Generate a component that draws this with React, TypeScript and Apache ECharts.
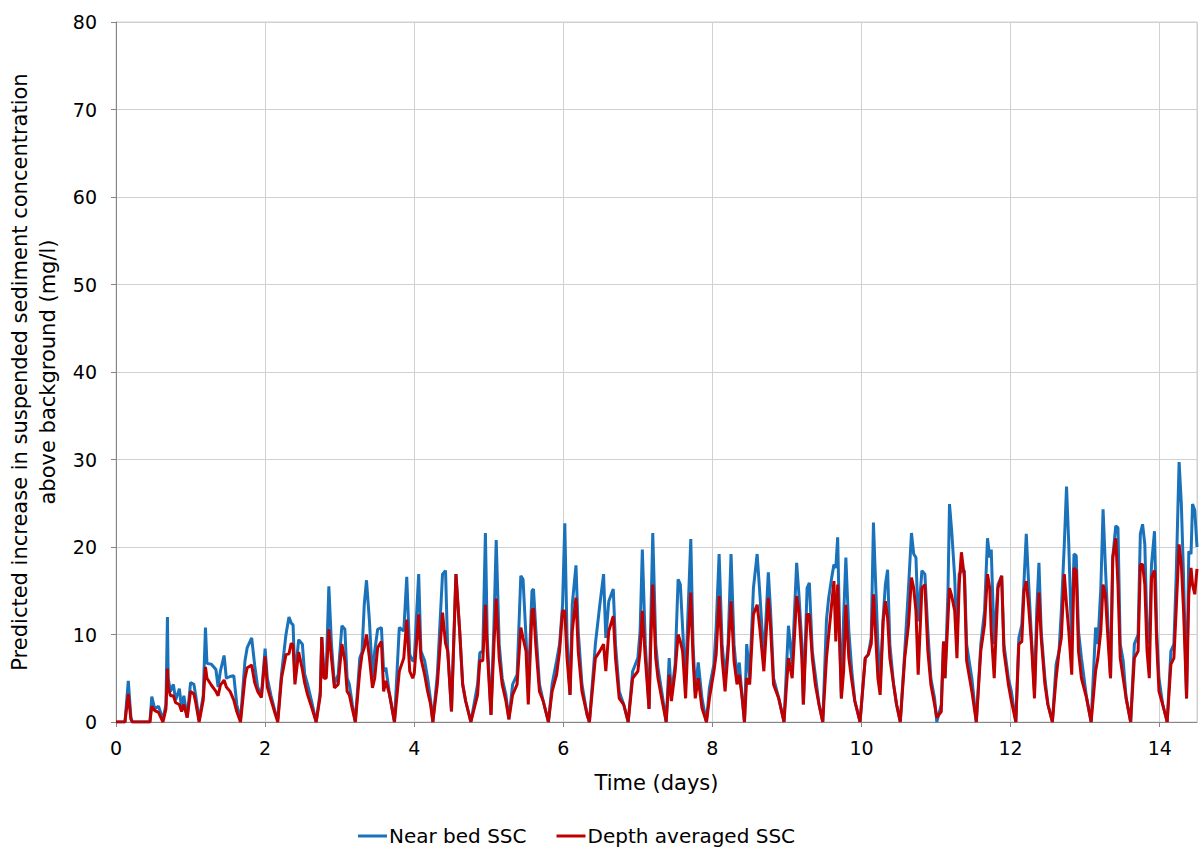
import React, { useEffect, useRef } from "react";
import * as echarts from "echarts";

// Time (days) of each read vertex
const times: number[] = [
  0, 0.12, 0.165, 0.2, 0.22, 0.455, 0.48, 0.52, 0.57, 0.63, 0.67, 0.69, 0.7, 0.73, 0.77, 0.8, 0.85, 0.88, 0.91, 0.955,
  1.0, 1.045, 1.07, 1.115, 1.17, 1.2, 1.22, 1.28, 1.34, 1.37, 1.4, 1.45, 1.48, 1.53, 1.58, 1.62, 1.67, 1.73, 1.76, 1.82,
  1.86, 1.9, 1.95, 2.0, 2.03, 2.08, 2.14, 2.17, 2.22, 2.28, 2.32, 2.35, 2.375, 2.4, 2.45, 2.5, 2.53, 2.57, 2.62, 2.685,
  2.74, 2.76, 2.79, 2.82, 2.855, 2.89, 2.93, 2.98, 3.03, 3.07, 3.1, 3.13, 3.17, 3.21, 3.27, 3.3, 3.33, 3.36, 3.4, 3.44,
  3.47, 3.51, 3.56, 3.59, 3.62, 3.67, 3.735, 3.8, 3.86, 3.9, 3.94, 3.98, 4.0, 4.06, 4.09, 4.14, 4.18, 4.22, 4.25, 4.31,
  4.38, 4.42, 4.45, 4.5, 4.56, 4.61, 4.65, 4.69, 4.76, 4.85, 4.88, 4.92, 4.955, 4.98, 5.03, 5.07, 5.1, 5.14, 5.18, 5.23,
  5.27, 5.32, 5.38, 5.43, 5.46, 5.5, 5.53, 5.58, 5.6, 5.63, 5.68, 5.73, 5.8, 5.85, 5.91, 5.95, 5.99, 6.02, 6.05, 6.09,
  6.12, 6.17, 6.2, 6.25, 6.32, 6.35, 6.43, 6.49, 6.54, 6.57, 6.61, 6.67, 6.7, 6.75, 6.81, 6.87, 6.93, 7.0, 7.03, 7.06,
  7.1, 7.15, 7.17, 7.2, 7.24, 7.27, 7.32, 7.38, 7.42, 7.45, 7.5, 7.54, 7.57, 7.6, 7.64, 7.67, 7.71, 7.74, 7.77, 7.81,
  7.86, 7.92, 7.96, 8.02, 8.05, 8.09, 8.13, 8.17, 8.21, 8.25, 8.29, 8.33, 8.36, 8.4, 8.43, 8.46, 8.5, 8.55, 8.6, 8.64,
  8.69, 8.75, 8.78, 8.82, 8.89, 8.96, 9.02, 9.07, 9.13, 9.16, 9.2, 9.22, 9.27, 9.3, 9.34, 9.38, 9.43, 9.48, 9.53, 9.56,
  9.6, 9.63, 9.655, 9.68, 9.71, 9.73, 9.76, 9.79, 9.83, 9.87, 9.91, 9.98, 10.05, 10.09, 10.13, 10.16, 10.18, 10.22, 10.25, 10.29,
  10.32, 10.35, 10.38, 10.43, 10.47, 10.52, 10.58, 10.63, 10.67, 10.7, 10.73, 10.76, 10.81, 10.85, 10.89, 10.93, 10.98, 11.01, 11.07, 11.1,
  11.12, 11.16, 11.18, 11.21, 11.25, 11.28, 11.31, 11.34, 11.38, 11.41, 11.45, 11.48, 11.54, 11.6, 11.65, 11.69, 11.72, 11.74, 11.78, 11.83,
  11.88, 11.91, 11.97, 12.01, 12.07, 12.11, 12.15, 12.18, 12.21, 12.24, 12.28, 12.32, 12.35, 12.38, 12.41, 12.46, 12.5, 12.56, 12.61, 12.65,
  12.68, 12.72, 12.75, 12.78, 12.82, 12.85, 12.88, 12.91, 12.95, 13.02, 13.08, 13.14, 13.17, 13.21, 13.24, 13.27, 13.31, 13.34, 13.37, 13.41,
  13.44, 13.47, 13.51, 13.55, 13.61, 13.66, 13.71, 13.74, 13.77, 13.8, 13.83, 13.86, 13.89, 13.93, 13.96, 13.99, 14.04, 14.1, 14.15, 14.19,
  14.22, 14.26, 14.29, 14.32, 14.36, 14.39, 14.42, 14.44, 14.47, 14.5,
];

// Near bed SSC (mg/l)
const nearBed: number[] = [
  0, 0, 4.7, 0.5, 0, 0, 2.9, 1.5, 1.8, 0.3, 2, 12.0, 5, 3.5, 4.3, 2.5, 3.8, 1.5, 3, 0.5,
  4.5, 4.3, 3, 0.2, 3, 10.8, 6.7, 6.6, 6.0, 4, 5.8, 7.6, 5, 5.2, 5.3, 2, 0.2, 7, 8.5, 9.6,
  6.5, 4, 3, 8.4, 5, 3, 1, 0.3, 5.5, 10, 12.0, 11.3, 11.1, 5, 9.4, 8.9, 5.5, 4.3, 2.5, 0,
  3.5, 9.7, 5, 5.8, 15.5, 8.9, 4.3, 5.4, 11, 10.6, 5, 4.3, 2, 0, 7.3, 8, 13.4, 16.2, 11.5, 5,
  8.1, 10.6, 10.8, 5.8, 6.2, 3.1, 0, 10.8, 10.4, 16.6, 7.7, 7, 7, 16.9, 8.1, 7, 5, 2.5, 0, 5.4,
  16.9, 17.3, 8.1, 1.2, 16.9, 10.4, 4.3, 2.4, 0, 4.3, 7.9, 8.1, 21.6, 9.6, 0.8, 11.3, 20.8, 8.9, 5, 3.1,
  0.3, 4.3, 5.4, 16.7, 16.3, 9.6, 3.9, 15, 15.2, 10.8, 4.3, 2.4, 0, 4.3, 7, 8.9, 13.4, 22.7, 9.6, 3.1,
  13.4, 17.9, 10.4, 4.3, 0.8, 0, 8.9, 13.4, 16.9, 9.6, 13.8, 15.2, 8.9, 3.5, 2, 0, 5.8, 7.3, 10.4, 19.7,
  8.9, 1.5, 10.4, 21.6, 8.9, 6.2, 3.5, 0, 7.3, 3.1, 6.6, 16.3, 15.7, 10.8, 4.3, 11.9, 20.9, 8.9, 3.5, 6.8,
  2.7, 0, 3.9, 6.6, 10.8, 19.2, 8.9, 5, 8.9, 19.2, 8.9, 5, 6.8, 2.7, 0, 8.9, 5, 15.3, 19.2, 14.2,
  7, 17.1, 12.7, 5, 2.7, 0, 11, 6.6, 18.2, 14.6, 8.9, 2, 15.3, 15.9, 8.1, 5.4, 2, 0, 11.7, 14.2,
  16.5, 18, 17.6, 21.1, 8.9, 2.7, 11.9, 18.8, 10.4, 5.8, 2.4, 0, 7.3, 7.7, 9.6, 22.8, 18, 8.9, 4.3, 11.9,
  15.7, 17.4, 8.9, 4.3, 2, 0, 8.1, 15.3, 21.6, 19.2, 18.8, 11.5, 17.3, 16.9, 10.4, 5, 2.7, 0, 2, 9.2,
  5, 15, 24.9, 21.8, 16.5, 8.9, 16.9, 17.3, 17.3, 8.9, 6.6, 5, 0, 8.9, 12.7, 21, 18.8, 19.7, 8.9, 15.7,
  16.7, 8.9, 5, 3.5, 0, 9.6, 11.1, 16.1, 21.5, 16.1, 9.6, 3.5, 12.7, 18.2, 10.4, 5, 2, 0, 6.6, 8.1,
  12.7, 20.3, 26.9, 20.3, 8.9, 19.2, 19, 10.4, 7.3, 2.7, 0, 10.8, 8.9, 15.3, 24.3, 18, 10.4, 5, 18.8, 22.4,
  22.2, 8.9, 7, 2.7, 0, 8.9, 10, 21.5, 22.6, 20.3, 10.4, 8.9, 18, 21.8, 10.4, 5, 2, 0, 8.1, 8.9,
  16.5, 29.7, 24.9, 16.5, 2.7, 19.5, 19.2, 24.9, 24.2, 20,
];

// Depth averaged SSC (mg/l)
const depthAveraged: number[] = [
  0, 0, 3.2, 0.3, 0, 0, 1.8, 1.3, 1.1, 0, 1.5, 6.1, 4, 3, 3, 2.2, 2, 1.2, 2, 0.5,
  3.5, 3.2, 2.2, 0, 2.5, 6.3, 5, 4.2, 3.5, 3, 4.2, 4.8, 4, 3.5, 2.5, 1.2, 0, 5, 6.2, 6.5,
  4.5, 3.5, 2.8, 7.5, 4, 2.5, 0.8, 0, 5, 7.7, 7.8, 9, 8.8, 4.3, 8, 6, 4.5, 3.1, 1.8, 0,
  3, 9.7, 5, 5, 10.6, 7.3, 3.9, 4.3, 8.9, 7, 3.5, 3.1, 1.5, 0, 5.8, 7.7, 8.5, 10, 7.3, 3.9,
  5, 8.5, 9.2, 3.5, 4.7, 3.1, 0, 5.8, 7.3, 11.7, 5.8, 5, 5.5, 12.3, 7.3, 5.4, 3.5, 2, 0, 4.3,
  12.5, 9, 8.1, 1.2, 16.9, 10.4, 4.3, 2.4, 0, 3.1, 7, 7, 13.4, 8.1, 0.8, 8.9, 14.1, 7.3, 4.3, 2.4,
  0.3, 3.1, 4.3, 10.8, 9.6, 8.1, 2, 12.7, 13, 8.9, 3.5, 2.4, 0, 3.5, 5.4, 8.1, 12.7, 12.7, 7.3, 3.1,
  10.4, 14.2, 8.1, 3.5, 0.8, 0, 7.3, 8.1, 8.9, 5.8, 10.4, 12.1, 7.3, 2.7, 2, 0, 5, 5.8, 8.1, 12.7,
  7.3, 1.5, 8, 15.7, 7.3, 5, 2.7, 0, 5.4, 2.4, 5.8, 10, 9.2, 8.1, 2.7, 8.9, 14.8, 7.3, 2.7, 5,
  1.6, 0, 2.7, 5.8, 7.7, 14.4, 7.3, 3.5, 8.1, 13.8, 7, 4.3, 5.4, 2.7, 0, 5, 4.3, 12.3, 13.4, 10.4,
  5.8, 14.2, 10.8, 4.3, 2.7, 0, 7.3, 5, 14.4, 12.7, 7.3, 2, 12.3, 12.3, 7.3, 4.3, 2, 0, 7.3, 10,
  13.5, 16.1, 9.2, 15.7, 8.1, 2.7, 5.8, 13.4, 7.3, 4.7, 2.4, 0, 7.3, 7.7, 8.9, 14.6, 11.5, 5, 3.1, 11.5,
  13.8, 11.9, 7.3, 4.3, 2, 0, 7.3, 11.1, 16.5, 15.3, 12.7, 5.4, 15.3, 15.7, 8.1, 4.3, 2, 0.5, 1.2, 9.2,
  5, 11.9, 15.3, 14.4, 12.7, 7.3, 15.7, 19.4, 16.5, 7, 5, 3.5, 0, 8.1, 11.1, 16.9, 15.3, 10.4, 5, 15.3,
  16.7, 8.1, 4.3, 2.4, 0, 8.9, 9.2, 15, 16.1, 13.4, 8.9, 2.7, 10.4, 14.8, 9.6, 4.3, 2, 0, 5, 8.1,
  9.6, 16.9, 13.4, 10.4, 5.4, 17.6, 17.3, 8.1, 5, 2.7, 0, 5.8, 7.3, 10.4, 15.7, 14.6, 8.9, 5, 18.8, 21,
  15.7, 7.3, 5, 2.7, 0, 7.3, 8.1, 18, 18, 15.7, 8.1, 5, 16.5, 17.3, 8.9, 3.5, 2, 0, 6.6, 7.3,
  12.7, 20.3, 18, 12.7, 2.7, 14.6, 17.6, 15.7, 14.6, 17.5,
];

const seriesNames = ["Near bed SSC", "Depth averaged SSC"];
const yAxisTitle = "Predicted increase in suspended sediment concentration\nabove background (mg/l)";
const xAxisTitle = "Time (days)";

const FONT = "'DejaVu Sans', 'Liberation Sans', Arial, sans-serif";

export default function App() {
  const ref = useRef<HTMLDivElement>(null);
  useEffect(() => {
    if (!ref.current) return;
    const chart = echarts.init(ref.current, undefined, { renderer: "svg" });
    const pair = (vals: number[]) => times.map((t, i) => [t, vals[i]]);
    chart.setOption({
      animation: false,
      backgroundColor: "#ffffff",
      textStyle: { fontFamily: FONT },
      grid: {
        left: 116,
        top: 22,
        right: 3,
        bottom: 125,
        outerBoundsMode: "none",
        containLabel: false,
        show: true,
        borderColor: "#d0d0d0",
        borderWidth: 1,
      },
      legend: {
        data: seriesNames.map((n) => ({ name: n })),
        top: 821,
        left: 353,
        icon: "rect",
        itemWidth: 29,
        itemHeight: 3,
        itemGap: 30,
        textStyle: { fontFamily: FONT, fontSize: 20, color: "#000", padding: [0, 0, 0, -3] },
      },
      xAxis: {
        type: "value",
        min: 0,
        max: 14.5,
        interval: 2,
        name: xAxisTitle,
        nameLocation: "middle",
        nameGap: 50,
        nameTextStyle: { fontFamily: FONT, fontSize: 21, color: "#000" },
        axisLine: { show: true, onZero: false, lineStyle: { color: "#868686", width: 1 } },
        axisTick: { show: true, length: 5, lineStyle: { color: "#868686" } },
        axisLabel: {
          fontFamily: FONT,
          fontSize: 19,
          color: "#000",
          margin: 16,
          showMaxLabel: false,
        },
        splitLine: { show: true, lineStyle: { color: "#d0d0d0", width: 1 } },
      },
      yAxis: {
        type: "value",
        min: 0,
        max: 80,
        interval: 10,
        name: yAxisTitle,
        nameLocation: "middle",
        nameGap: 54,
        nameTextStyle: { fontFamily: FONT, fontSize: 21, color: "#000", lineHeight: 28 },
        axisLine: { show: true, lineStyle: { color: "#868686", width: 1 } },
        axisTick: { show: true, length: 5, lineStyle: { color: "#868686" } },
        axisLabel: { fontFamily: FONT, fontSize: 19, color: "#000", margin: 19 },
        splitLine: { show: true, lineStyle: { color: "#d0d0d0", width: 1 } },
      },
      series: [
        {
          name: seriesNames[0],
          type: "line",
          data: pair(nearBed),
          showSymbol: false,
          symbol: "none",
          color: "#1a72bb",
          lineStyle: { color: "#1a72bb", width: 3 },
          z: 2,
        },
        {
          name: seriesNames[1],
          type: "line",
          data: pair(depthAveraged),
          showSymbol: false,
          symbol: "none",
          color: "#c00000",
          lineStyle: { color: "#c00000", width: 3 },
          z: 3,
        },
      ],
    });
    return () => chart.dispose();
  }, []);
  return (
    <div
      ref={ref}
      style={{ position: "absolute", left: 0, top: 0, width: 1200, height: 847, background: "#fff" }}
    />
  );
}
